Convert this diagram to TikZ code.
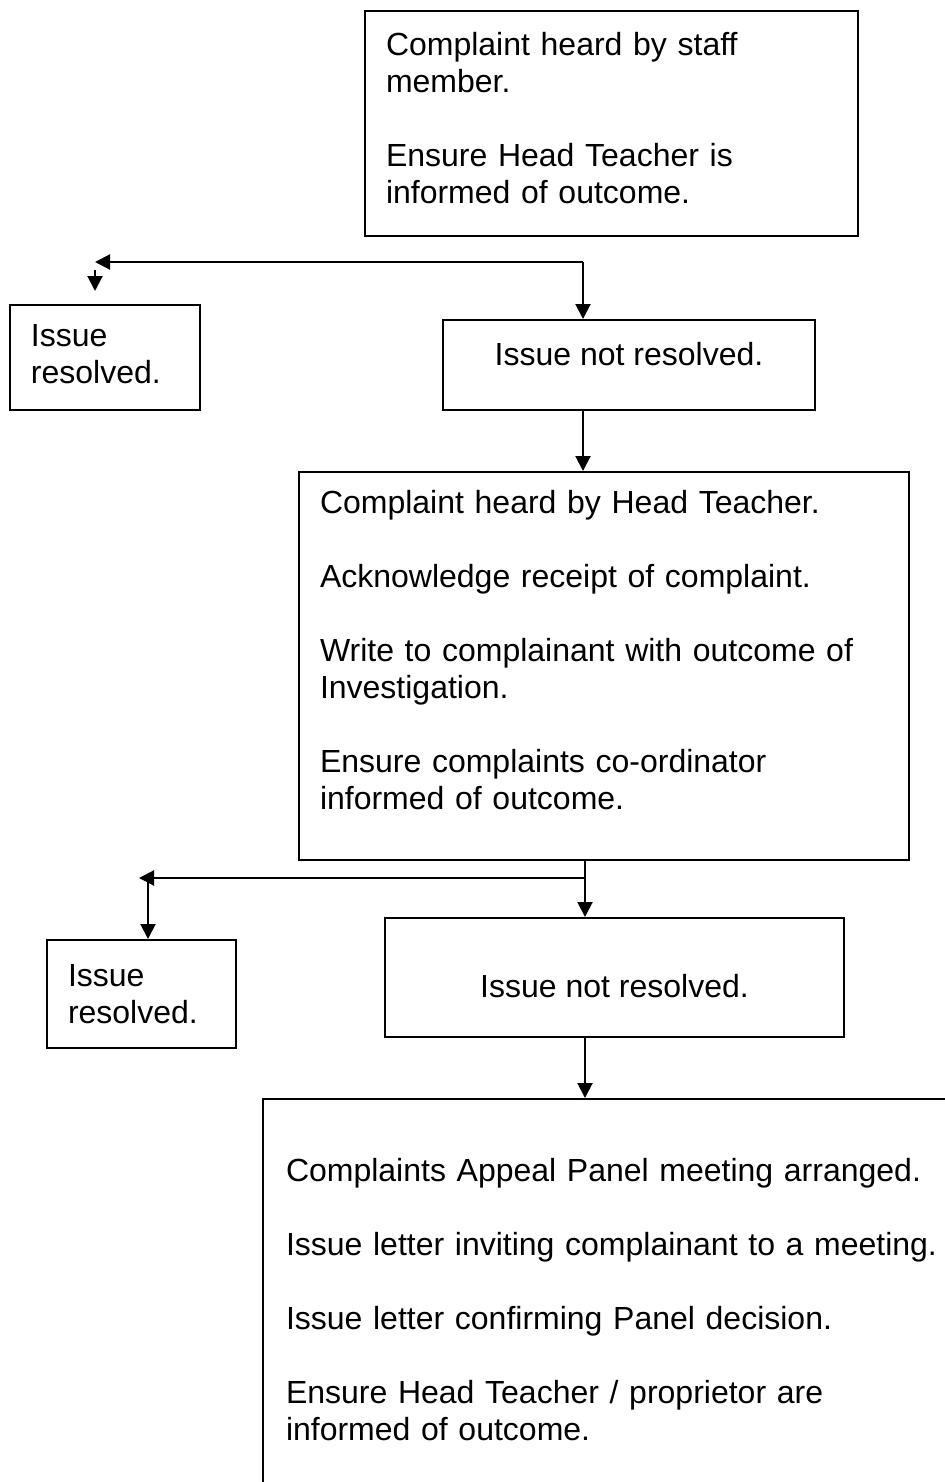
\documentclass[tikz,border=0pt]{standalone}
\usepackage{fontspec}
\setmainfont{Liberation Sans}
\usetikzlibrary{arrows.meta}
\newcommand{\lift}[1]{\rule[-#1]{0pt}{0pt}}

\begin{document}
\begin{tikzpicture}[x=0.5pt, y=-0.5pt,
          box/.style = {draw, line width=1pt, rectangle, inner ysep=0pt, font=\fontsize{16}{18.5}\selectfont},
          lbox/.style = {box, align=left, inner xsep=10.5pt},
          cbox/.style = {box, align=center},
          aedge/.style = {line width=1pt, -{Triangle[length=7.5pt, width=7.5pt]}}]
        \useasboundingbox (0,0) rectangle (944,1482);
        \node[lbox, minimum width=246.5pt, minimum height=112.5pt, text width=225.5pt] (staff) at (611.5,123.5)
              {Complaint heard by staff\\member.\\[18.5pt]Ensure Head Teacher is\\informed of outcome.\lift{6pt}};
        \node[lbox, minimum width=95pt, minimum height=52.5pt, text width=74pt] (res1) at (105,357.5)
              {Issue\\resolved.\lift{4pt}};
        \node[cbox, minimum width=186pt, minimum height=45pt, text height=11.5pt, text depth=11pt] (nres1) at (629,365)
              {Issue not resolved.};
        \node[lbox, minimum width=305pt, minimum height=194pt, text width=284pt] (head) at (604,666)
              {Complaint heard by Head Teacher.\\[18.5pt]Acknowledge receipt of complaint.\\[18.5pt]%
               Write to complainant with outcome of\\Investigation.\\[18.5pt]%
               Ensure complaints co-ordinator\\informed of outcome.\lift{16pt}};
        \node[lbox, minimum width=94.5pt, minimum height=54pt, text width=73.5pt] (res2) at (141.5,994)
              {Issue\\resolved.};
        \node[cbox, minimum width=229.5pt, minimum height=59.5pt, text height=19.5pt, text depth=0pt] (nres2) at (614.5,977.5)
              {Issue not resolved.};
        \node[box, align=left, inner xsep=11.5pt, minimum width=368.5pt, minimum height=201pt, text width=345.5pt] (panel) at (631.5,1300)
              {Complaints Appeal Panel meeting arranged.\\[18.5pt]Issue letter inviting complainant to a meeting.\\[18.5pt]%
               Issue letter confirming Panel decision.\\[18.5pt]%
               Ensure Head Teacher / proprietor are\\informed of outcome.};
        % first split
        \coordinate (j1) at (583,262);
        \coordinate (a1) at (95,262);
        \coordinate (s1) at (95,270);
        \coordinate (t1) at (95,291);
        \draw[aedge] (j1) -- (a1);
        \draw[aedge] (s1) -- (t1);
        \draw[aedge] (j1) -- (nres1.north -| j1);
        \draw[aedge] (nres1.south -| j1) -- (head.north -| j1);
        % second split
        \coordinate (j2) at (585,878);
        \coordinate (a2) at (139,878);
        \coordinate (b2) at (148,880);
        \draw[aedge] (head.south -| j2) -- (nres2.north -| j2);
        \draw[aedge] (j2) -- (a2);
        \draw[aedge] (b2) -- (res2.north -| b2);
        \draw[aedge] (nres2.south -| j2) -- (panel.north -| j2);
      \end{tikzpicture}
\end{document}
